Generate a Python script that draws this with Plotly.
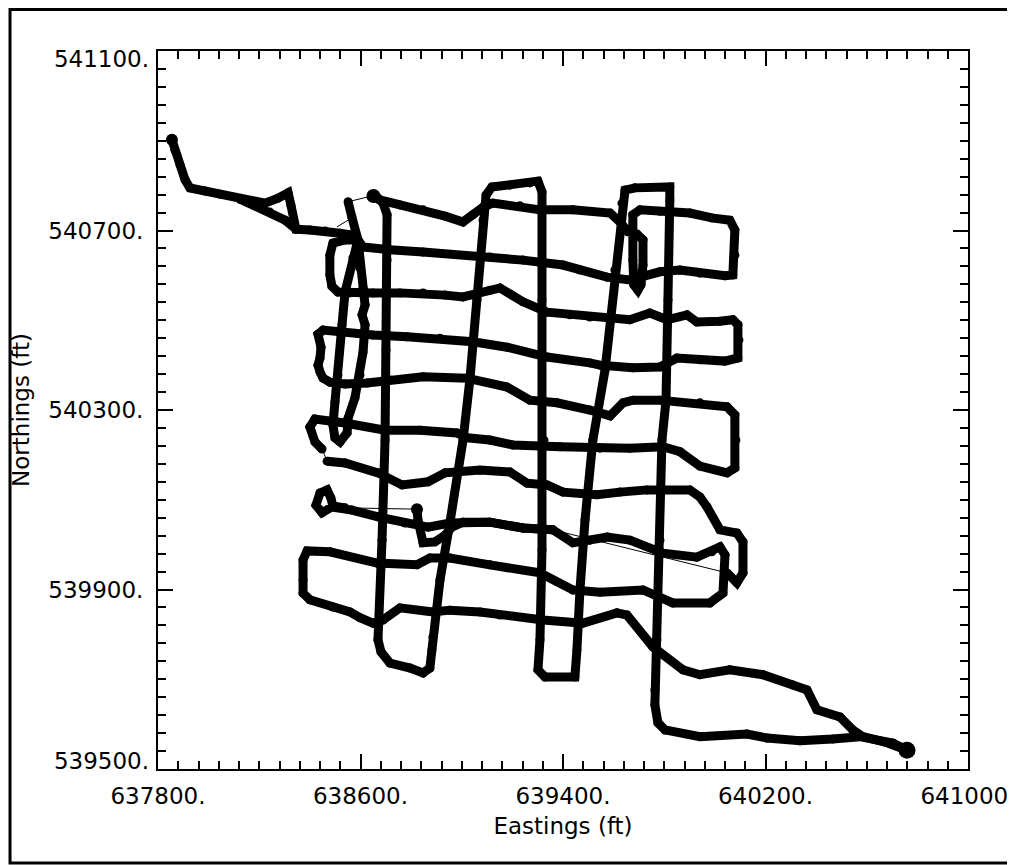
import plotly.graph_objects as go

# ---------------- data (Eastings / Northings in ft) ----------------
tail_e = [637855, 637867, 637887, 637907, 637926, 637986, 638045, 638124, 638183, 638223,
          638274, 638314, 638325, 638333, 638345, 638400, 638460, 638519, 638566, 638590]
tail_n = [540902, 540879, 540846, 540813, 540795, 540788, 540781, 540770, 540764, 540761,
          540772, 540784, 540757, 540723, 540703, 540701, 540699, 540694, 540690, 540679]

tail_return_e = [638124, 638183, 638242, 638302, 638345]
tail_return_n = [540770, 540755, 540741, 540723, 540703]

rows_cdef_e = [638590, 638539, 638491, 638479, 638479, 638487, 638511,
               638558, 638649, 638756, 638847, 638934, 639005, 639072, 639111, 639151, 639198,
               639242, 639337, 639427, 639506, 639664, 639743, 639811, 639890, 639929, 640020,
               640071, 640091, 640095, 640091,
               640040, 639941, 639850, 639783, 639676, 639546, 639506, 639337, 639179, 639044,
               638914, 638784, 638649, 638519, 638452, 638432,
               638444, 638440, 638432, 638440, 638452, 638479,
               638539, 638626, 638716, 638847, 639021, 639179, 639269, 639376, 639506, 639586,
               639637, 639676, 639783, 639941, 640048, 640079, 640083, 640079,
               640048, 639941, 639862, 639795, 639664, 639546, 639388, 639202, 639111, 639021,
               638981, 638835, 638697, 638539, 638420, 638400, 638420, 638448]
rows_cdef_n = [540679, 540679, 540672, 540645, 540601, 540576, 540563,
               540561, 540561, 540561, 540561, 540556, 540552, 540563, 540567, 540572, 540556,
               540541, 540518, 540512, 540507, 540501, 540516, 540501, 540512, 540496, 540498,
               540501, 540490, 540456, 540416,
               540409, 540412, 540416, 540396, 540394, 540400, 540405, 540418, 540440, 540452,
               540460, 540463, 540467, 540472, 540478, 540469,
               540440, 540416, 540400, 540385, 540371, 540362,
               540358, 540360, 540367, 540374, 540371, 540351, 540322, 540316, 540300, 540287,
               540316, 540322, 540322, 540316, 540307, 540289, 540233, 540171,
               540160, 540175, 540207, 540218, 540215, 540215, 540218, 540222, 540233, 540238,
               540249, 540255, 540255, 540271, 540280, 540262, 540229, 540213]

row_g_e = [638468, 638539, 638669, 638764, 638867, 638934, 639072, 639190, 639258, 639337,
           639400, 639534, 639625, 639732, 639901, 639941, 639969, 640020, 640087, 640111,
           640111, 640087, 640048]
row_g_n = [540186, 540182, 540160, 540133, 540140, 540160, 540166, 540162, 540137, 540133,
           540117, 540111, 540117, 540122, 540122, 540106, 540084, 540033, 540026, 540006,
           539937, 539915, 539937]

row_h_west_e = [639360, 639242, 639111, 639005, 638953, 638867, 638776, 638669, 638566, 638487,
                638448, 638424, 638440, 638468, 638483, 638491, 638539]
row_h_west_n = [540033, 540037, 540050, 540050, 540048, 540039, 540048, 540062, 540077, 540084,
                540071, 540088, 540115, 540122, 540104, 540086, 540082]

rows_hi_e = [638823, 638827, 638847, 638894, 638934, 638961, 639005, 639111, 639242, 639360,
             639439, 639506, 639574, 639664, 639795, 639929, 639988, 640020, 640040, 640040,
             640032, 639980,
             639834, 639716, 639546, 639439, 639309, 639111, 638953, 638874, 638823, 638665,
             638479, 638389,
             638373, 638373, 638373, 638400, 638491, 638558, 638598, 638649, 638689, 638756,
             638886, 638953, 639072, 639151, 639321, 639479, 639613, 639653,
             639755, 639874, 639941, 640059, 640190, 640308, 640364, 640403, 640494, 640545,
             640585, 640672, 640731, 640759]
rows_hi_n = [540079, 540055, 540004, 540006, 540021, 540039, 540050, 540050, 540037, 540033,
             540004, 540010, 540017, 540010, 539981, 539972, 539984, 539995, 539977, 539932,
             539892, 539870,
             539870, 539899, 539894, 539899, 539937, 539955, 539970, 539970, 539955, 539959,
             539984, 539986,
             539966, 539921, 539892, 539877, 539861, 539850, 539837, 539825, 539832, 539859,
             539850, 539854, 539850, 539843, 539832, 539825, 539848, 539843,
             539772, 539721, 539710, 539721, 539710, 539687, 539676, 539632, 539616, 539587,
             539572, 539560, 539549, 539542]

rows_ab_e = [638645, 638677, 638756, 638847, 638934, 639005, 639044, 639084, 639123, 639230,
             639309, 639439, 639586, 639625, 639657, 639692, 639716, 639716, 639708, 639696,
             639680, 639676, 639672, 639676, 639704, 639783, 639901, 639988, 640059, 640079,
             640079, 640071, 640040, 639941, 639862, 639783, 639704, 639664, 639574, 639467,
             639400, 639242, 639111, 638847, 638716, 638610, 638590]
rows_ab_n = [540777, 540768, 540757, 540746, 540732, 540719, 540735, 540752, 540761, 540755,
             540746, 540746, 540739, 540719, 540697, 540692, 540679, 540623, 540579, 540567,
             540579, 540634, 540701, 540735, 540746, 540743, 540739, 540728, 540723, 540701,
             540645, 540601, 540599, 540605, 540612, 540608, 540599, 540590, 540596, 540612,
             540623, 540634, 540641, 540652, 540657, 540663, 540679]

narrow_e = [638590, 638570, 638539, 638527, 638511, 638499, 638491, 638499, 638519, 638547,
            638551, 638578, 638598, 638610, 638618, 638606, 638618, 638610, 638598, 638586,
            638590, 638566, 638551]
narrow_n = [540679, 540639, 540563, 540490, 540378, 540318, 540267, 540238, 540229, 540249,
            540282, 540327, 540378, 540429, 540490, 540512, 540534, 540572, 540616, 540661,
            540679, 540730, 540764]

lines_ns_e = [638657, 638689, 638705, 638705, 638701, 638697, 638685, 638669, 638681, 638716,
              638796, 638847, 638874, 638882, 638886, 638914, 638953, 639005, 639032, 639060,
              639084, 639096, 639119, 639190, 639269, 639301, 639317, 639317, 639325, 639317,
              639309, 639301, 639329, 639447, 639455, 639459, 639467, 639487, 639518, 639566,
              639605, 639633, 639645, 639684, 639822, 639822, 639815, 639807, 639791, 639783,
              639771, 639763, 639763, 639775, 639803, 639941, 640127, 640206, 640336, 640466,
              640573, 640703, 640759]
lines_ns_n = [540779, 540761, 540735, 540634, 540434, 540233, 540010, 539788, 539761, 539736,
              539725, 539714, 539725, 539765, 539794, 539921, 540048, 540233, 540367, 540545,
              540723, 540779, 540797, 540801, 540806, 540810, 540786, 540545, 540233, 539988,
              539788, 539721, 539705, 539705, 539765, 539832, 539899, 540055, 540233, 540389,
              540612, 540761, 540790, 540795, 540797, 540768, 540545, 540322, 540233, 540010,
              539788, 539676, 539643, 539603, 539587, 539572, 539578, 539569, 539563, 539567,
              539572, 539558, 539542]

# data gaps bridged by a thin line
gap_e = [638448, 638468, None, 640048, 639360, None, 638539, 638823, None,
         638551, 638645, None, 638507, 638551]
gap_n = [540213, 540186, None, 539937, 540033, None, 540082, 540079, None,
         540764, 540777, None, 540708, 540723]

# stops (clusters of fixes)
stop_e = [637855, 638651, 638823, 640759]
stop_n = [540902, 540777, 540079, 539542]
stop_size = [12, 14, 12, 17]

x_ticks = [637800, 638600, 639400, 640200, 641000]
y_ticks = [539500, 539900, 540300, 540700, 541100]

# ---------------- figure ----------------
segments = [(tail_e, tail_n), (tail_return_e, tail_return_n), (rows_cdef_e, rows_cdef_n),
            (row_g_e, row_g_n), (row_h_west_e, row_h_west_n), (rows_hi_e, rows_hi_n),
            (rows_ab_e, rows_ab_n), (narrow_e, narrow_n), (lines_ns_e, lines_ns_n)]
track_e, track_n = [], []
for se, sn in segments:
    track_e += list(se) + [None]
    track_n += list(sn) + [None]

fig = go.Figure()
fig.add_trace(go.Scatter(x=gap_e, y=gap_n, mode="lines",
                         line=dict(color="black", width=1), connectgaps=False,
                         hoverinfo="skip", showlegend=False))
fig.add_trace(go.Scatter(x=track_e, y=track_n, mode="lines+markers",
                         line=dict(color="black", width=9), connectgaps=False,
                         marker=dict(color="black", size=9, opacity=1, line=dict(width=0)),
                         hoverinfo="skip", showlegend=False))
fig.add_trace(go.Scatter(x=stop_e, y=stop_n, mode="markers",
                         marker=dict(color="black", size=stop_size, opacity=1,
                                     line=dict(width=0)),
                         hoverinfo="skip", showlegend=False))
# empty traces so the end-label axes are drawn
fig.add_trace(go.Scatter(x=[], y=[], yaxis="y2", showlegend=False, hoverinfo="skip"))
fig.add_trace(go.Scatter(x=[], y=[], yaxis="y3", showlegend=False, hoverinfo="skip"))

font = dict(family="DejaVu Sans", size=23, color="black")
axis_common = dict(showline=True, linewidth=2, linecolor="black", mirror="ticks",
                   ticks="inside", ticklen=15, tickwidth=2, tickcolor="black",
                   showgrid=False, zeroline=False, tickfont=font,
                   ticklabeloverflow="allow", automargin=False)

fig.update_xaxes(range=[x_ticks[0], x_ticks[-1]], tickmode="array", tickvals=x_ticks,
                 ticktext=[f"{v}." for v in x_ticks],
                 minor=dict(tickmode="linear", tick0=x_ticks[0], dtick=80, ticks="inside",
                            ticklen=8, tickwidth=2, tickcolor="black", showgrid=False),
                 ticklabelstandoff=5,
                 title=dict(text="Eastings (ft)", font=font, standoff=10),
                 **axis_common)

end_axis = dict(overlaying="y", anchor="x", side="left", range=[y_ticks[0], y_ticks[-1]],
                tickmode="array", ticks="", showline=False, showgrid=False, zeroline=False,
                tickfont=font, ticklabelstandoff=8, ticklabeloverflow="allow",
                automargin=False)

fig.update_layout(
    yaxis=dict(range=[y_ticks[0], y_ticks[-1]], tickmode="array", tickvals=y_ticks[1:-1],
               ticktext=[f"{v}." for v in y_ticks[1:-1]],
               minor=dict(tickmode="linear", tick0=y_ticks[0], dtick=40, ticks="inside",
                          ticklen=8, tickwidth=2, tickcolor="black", showgrid=False),
               ticklabelstandoff=8,
               title=dict(text="Northings (ft)", font=font, standoff=14),
               **axis_common),
    # end labels sit inside the axis range, as in the original
    yaxis2=dict(tickvals=[y_ticks[-1]], ticktext=[f"{y_ticks[-1]}."], ticklabelshift=8,
                **end_axis),
    yaxis3=dict(tickvals=[y_ticks[0]], ticktext=[f"{y_ticks[0]}."], ticklabelshift=-8,
                **end_axis),
)

fig.add_shape(type="rect", xref="paper", yref="paper",
              x0=-0.1827, x1=1.0531, y0=-0.1309, y1=1.0578,
              line=dict(color="black", width=3), fillcolor="rgba(0,0,0,0)", layer="above")

# the page adds an 8 px body margin, so the figure is sized to fit the window
fig.update_layout(width=1007, height=857, autosize=False,
                  margin=dict(l=150, r=47, t=43, b=96, pad=0),
                  plot_bgcolor="white", paper_bgcolor="white", font=font)

fig.write_html("out.html")
